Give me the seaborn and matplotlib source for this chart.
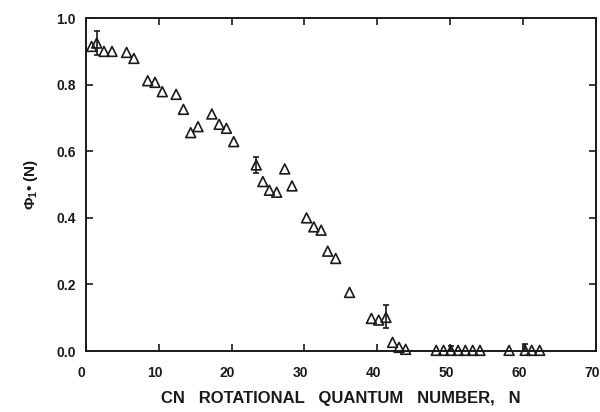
import matplotlib
matplotlib.use("Agg")
import matplotlib.pyplot as plt
import matplotlib.transforms as mtransforms
import seaborn as sns
import pandas as pd

# Data
N_values = [0.8, 1.5, 2.5, 3.6, 5.6, 6.6, 8.5, 9.5, 10.5, 12.4, 13.4, 14.4, 15.4,
            17.3, 18.3, 19.3, 20.3, 23.4, 24.3, 25.2, 26.2, 27.3, 28.3, 30.3,
            31.3, 32.3, 33.2, 34.3, 36.2, 39.2, 40.2, 41.2, 42.1, 43.0, 43.9,
            48.1, 49.1, 50.1, 51.1, 52.1, 53.1, 54.1, 58.1, 60.3, 61.2, 62.3]
phi_values = [0.915, 0.925, 0.90, 0.90, 0.897, 0.879, 0.812, 0.807, 0.779, 0.771,
              0.726, 0.656, 0.674, 0.712, 0.681, 0.669, 0.629, 0.559, 0.509,
              0.483, 0.477, 0.547, 0.496, 0.400, 0.373, 0.363, 0.300, 0.278,
              0.176, 0.098, 0.093, 0.101, 0.026, 0.011, 0.005,
              0.002, 0.002, 0.002, 0.002, 0.002, 0.002, 0.002, 0.002, 0.002,
              0.002, 0.002]

err_N = [1.5, 23.4, 41.2, 50.1, 60.3]
err_phi = [0.925, 0.559, 0.101, 0.004, 0.004]
err_low = [0.035, 0.025, 0.033, 0.004, 0.004]
err_high = [0.035, 0.024, 0.037, 0.010, 0.016]

x_ticks = [0, 10, 20, 30, 40, 50, 60, 70]
y_ticks = [0.0, 0.2, 0.4, 0.6, 0.8, 1.0]
x_label = "CN   ROTATIONAL   QUANTUM   NUMBER,   N"
y_label = r"$\mathbf{\Phi}_{\mathbf{1}}$• (N)"

sns.set_theme(style="ticks")
plt.rcParams["font.family"] = ["Liberation Sans", "DejaVu Sans"]
plt.rcParams["mathtext.fontset"] = "custom"
plt.rcParams["mathtext.rm"] = "Liberation Sans"
plt.rcParams["mathtext.bf"] = "Liberation Sans:bold"

ink = "#1a1a1a"
fig = plt.figure(figsize=(6.0, 4.12), dpi=100)
ax = fig.add_axes([0.143, 0.148, 0.850, 0.808])

df = pd.DataFrame({"N": N_values, "phi": phi_values})
sns.scatterplot(data=df, x="N", y="phi", marker="^", s=50,
                facecolor="none", edgecolor=ink, linewidth=1.2, ax=ax,
                zorder=3, clip_on=False)

ax.errorbar(err_N, err_phi, yerr=[err_low, err_high], fmt="none",
            ecolor=ink, elinewidth=1.2, capsize=2.5, capthick=1.2, zorder=4)

ax.set_xlim(0, 70)
ax.set_ylim(0, 1.0)
ax.set_xticks(x_ticks)
ax.set_yticks(y_ticks)
ax.set_xticklabels([str(t) for t in x_ticks])
ax.set_yticklabels([f"{t:.1f}" for t in y_ticks])

ax.tick_params(axis="both", direction="in", length=5, width=1.2, color=ink,
               labelsize=10, labelcolor=ink, top=True, right=True)
ax.tick_params(axis="x", pad=11)
ax.tick_params(axis="y", pad=7)
shift = mtransforms.ScaledTranslation(-4 / 100, 0, fig.dpi_scale_trans)
for lab in ax.get_xticklabels():
    lab.set_transform(lab.get_transform() + shift)
for lab in ax.get_xticklabels() + ax.get_yticklabels():
    lab.set_fontweight("bold")

for sp in ax.spines.values():
    sp.set_visible(True)
    sp.set_linewidth(1.4)
    sp.set_color(ink)

ax.set_xlabel(x_label, fontsize=12, fontweight="bold", color=ink, labelpad=8)
ax.set_ylabel(y_label, fontsize=11, fontweight="bold", color=ink, labelpad=12)

fig.savefig("out.png", dpi=100)
